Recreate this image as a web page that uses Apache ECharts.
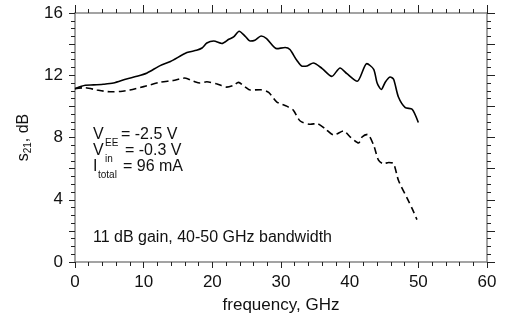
<!DOCTYPE html>
<html>
<head>
<meta charset="utf-8">
<script src="https://cdn.jsdelivr.net/npm/echarts@6/dist/echarts.min.js"></script>
<style>
  html, body { margin: 0; padding: 0; background: #fff; }
  #chart { width: 505px; height: 318px; }
</style>
</head>
<body>
<div id="chart"></div>
<script>
// solid curve: frequency (GHz), s21 (dB)
var solidFreq = [0, 1.5, 2.7, 4.1, 5.6, 7.5, 9.0, 10.5, 12.4, 13.9, 16.3, 17.7, 18.5, 19.2, 20.2, 21.4, 22.4, 23.1, 23.9, 24.8, 25.5, 26.2, 27.1, 27.9, 29.4, 30.6, 31.3, 32.3, 33.1, 33.8, 34.7, 36.0, 37.4, 38.6, 39.6, 41.1, 42.5, 43.5, 44.0, 44.6, 45.2, 45.9, 46.4, 47.1, 48.1, 49.1, 50.0];
var solidGain = [11.14, 11.36, 11.38, 11.42, 11.5, 11.76, 11.93, 12.15, 12.62, 12.88, 13.46, 13.6, 13.75, 14.07, 14.2, 14.04, 14.31, 14.46, 14.83, 14.5, 14.2, 14.25, 14.52, 14.36, 13.71, 13.78, 13.65, 12.96, 12.58, 12.6, 12.79, 12.43, 11.93, 12.47, 12.1, 11.61, 12.75, 12.38, 11.5, 11.08, 11.57, 11.89, 11.74, 10.6, 9.92, 9.81, 8.96];

// dashed curve
var dashFreq = [0, 1.5, 3.2, 5.1, 6.6, 8.0, 10.0, 12.4, 14.3, 16.0, 17.3, 18.2, 19.2, 20.6, 22.1, 23.1, 23.8, 24.8, 25.5, 27.0, 28.2, 29.4, 30.9, 31.8, 32.8, 34.3, 35.2, 36.4, 37.7, 39.1, 40.1, 41.3, 41.8, 42.6, 43.5, 44.2, 44.9, 45.7, 46.4, 47.1, 48.4, 49.1, 49.8];
var dashGain = [11.14, 11.2, 11.05, 10.94, 10.96, 11.05, 11.27, 11.55, 11.66, 11.82, 11.61, 11.5, 11.58, 11.45, 11.24, 11.35, 11.54, 11.24, 11.05, 11.07, 10.9, 10.28, 10.0, 9.75, 9.06, 8.85, 8.9, 8.57, 8.16, 8.42, 8.03, 7.65, 8.03, 8.2, 7.5, 6.54, 6.32, 6.39, 6.32, 5.25, 4.07, 3.43, 2.72];

function pairs(xs, ys) {
    var out = [];
    for (var i = 0; i < xs.length; i++) out.push([xs[i], ys[i]]);
    return out;
}

var font = '"Liberation Sans", Arial, sans-serif';
var axisCol = '#858585';

function xAx(pos, showLabel, tickLen) {
    return {
        type: 'value', position: pos, min: 0, max: 60, interval: 10,
        axisLine: { show: true, onZero: false, lineStyle: { color: axisCol, width: 1.5 } },
        axisTick: { show: true, inside: false, length: tickLen, lineStyle: { color: '#222', width: 1 } },
        minorTick: { show: true, splitNumber: 5, length: 4, lineStyle: { color: '#222', width: 1 } },
        splitLine: { show: false },
        axisLabel: { show: showLabel, color: '#111', fontSize: 17, fontFamily: font, margin: 12 }
    };
}
function yAx(pos, showLabel, tickLen) {
    return {
        type: 'value', position: pos, min: 0, max: 16, interval: 2,
        axisLine: { show: true, onZero: false, lineStyle: { color: axisCol, width: 1.5 } },
        axisTick: { show: true, inside: false, length: tickLen, lineStyle: { color: '#222', width: 1 } },
        minorTick: { show: true, splitNumber: 4, length: 4, lineStyle: { color: '#222', width: 1 } },
        splitLine: { show: false },
        axisLabel: {
            show: showLabel, color: '#111', fontSize: 17, fontFamily: font, margin: 12,
            formatter: function (v) { return v % 4 === 0 ? String(v) : ''; }
        }
    };
}

var xBottom = xAx('bottom', true, 6);
xBottom.name = 'frequency, GHz';
xBottom.nameLocation = 'middle';
xBottom.nameGap = 35;
xBottom.nameTextStyle = { color: '#111', fontSize: 17, fontFamily: font };
var xTop = xAx('top', false, 8);

var yLeft = yAx('left', true, 6);
yLeft.name = '{m|s}{s|21}{m|, dB}';
yLeft.nameLocation = 'middle';
yLeft.nameGap = 32;
yLeft.nameTextStyle = {
    color: '#111', fontFamily: font,
    rich: {
        m: { fontSize: 16, fontFamily: font, color: '#111' },
        s: { fontSize: 10, fontFamily: font, color: '#111', padding: [10, 0, 0, 0] }
    }
};
var yRight = yAx('right', false, 8);

function txt(x, y, s, size) {
    return {
        type: 'text', x: x, y: y, silent: true,
        style: { text: s, font: size + 'px ' + font, fill: '#111', align: 'left', verticalAlign: 'middle' }
    };
}

var chart = echarts.init(document.getElementById('chart'));
chart.setOption({
    animation: false,
    backgroundColor: '#fff',
    grid: { left: 75, right: 18, top: 13, bottom: 56, outerBoundsMode: 'none' },
    xAxis: [xBottom, xTop],
    yAxis: [yLeft, yRight],
    series: [
        {
            type: 'line', xAxisIndex: 0, yAxisIndex: 0, showSymbol: false, smooth: 0.25,
            lineStyle: { color: '#000', width: 1.6 },
            data: pairs(solidFreq, solidGain)
        },
        {
            type: 'line', xAxisIndex: 0, yAxisIndex: 0, showSymbol: false, smooth: 0.25,
            lineStyle: { color: '#000', width: 1.6, type: [7, 4] },
            data: pairs(dashFreq, dashGain)
        }
    ],
    graphic: [
        txt(93, 134.5, 'V', 16), txt(105, 143.5, 'EE', 10), txt(121, 134.5, '= -2.5 V', 16),
        txt(93, 150.5, 'V', 16), txt(105, 159.5, 'in', 10), txt(125, 150.5, '= -0.3 V', 16),
        txt(93, 166.5, 'I', 16), txt(98, 175.5, 'total', 10), txt(123, 166.5, '= 96 mA', 16),
        txt(93, 237.5, '11 dB gain, 40-50 GHz bandwidth', 16)
    ]
});
</script>
</body>
</html>
